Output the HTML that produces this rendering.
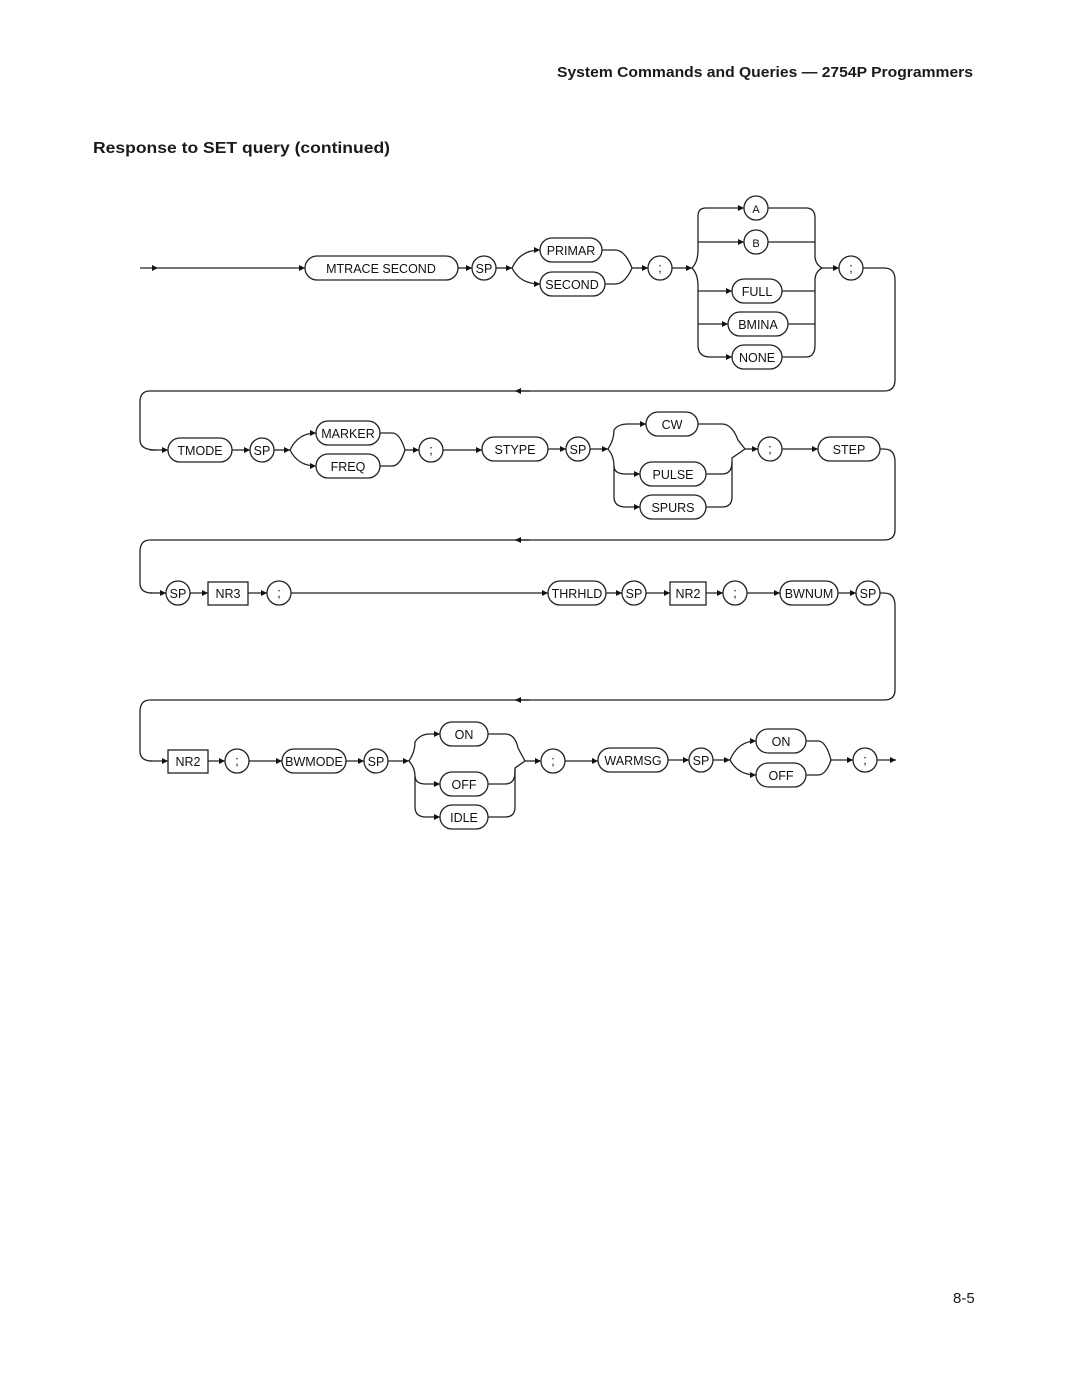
<!DOCTYPE html>
<html><head><meta charset="utf-8"><style>
html,body{margin:0;padding:0;background:#fff}
svg{display:block}
text{font-family:"Liberation Sans",sans-serif;font-size:12.5px;fill:#111}
.h{font-size:14.5px;font-weight:bold;fill:#1a1a1a}
</style></head><body>
<svg width="1080" height="1397" viewBox="0 0 1080 1397" xmlns="http://www.w3.org/2000/svg">
<defs>
<marker id="a" viewBox="0 0 10 10" refX="10" refY="5" markerWidth="10" markerHeight="6" orient="auto" markerUnits="userSpaceOnUse"><path d="M0,0 L10,5 L0,10 z" fill="#111"/></marker>
</defs>
<text class="h" x="557" y="77" textLength="416" lengthAdjust="spacingAndGlyphs">System Commands and Queries — 2754P Programmers</text>
<text class="h" x="93" y="153" style="font-size:15.5px" textLength="297" lengthAdjust="spacingAndGlyphs">Response to SET query (continued)</text>
<text class="h" x="953" y="1303" style="font-weight:normal;font-size:15px">8-5</text>

<g fill="none" stroke="#222" stroke-width="1.3">
<!-- Row 1 -->
<path d="M140,268 H158" marker-end="url(#a)"/>
<path d="M158,268 H305" marker-end="url(#a)"/>
<rect x="305" y="256" width="153" height="24" rx="12"/>
<path d="M458,268 H472" marker-end="url(#a)"/>
<circle cx="484" cy="268" r="12"/>
<path d="M496,268 H512"  marker-end="url(#a)"/>
<path d="M512,268 Q520,250 540,250" marker-end="url(#a)"/>
<path d="M512,268 Q520,284 540,284" marker-end="url(#a)"/>
<rect x="540" y="238" width="62" height="24" rx="12"/>
<rect x="540" y="272" width="65" height="24" rx="12"/>
<path d="M602,250 H615 Q625,250 632,268"/>
<path d="M605,284 H615 Q625,284 632,268"/>
<path d="M632,268 H648" marker-end="url(#a)"/>
<circle cx="660" cy="268" r="12"/>
<path d="M672,268 H692" marker-end="url(#a)"/>
<path d="M692,268 Q698,262 698,250 V216 Q698,208 706,208 H744" marker-end="url(#a)"/>
<path d="M698,242 H744" marker-end="url(#a)"/>
<path d="M692,268 Q698,274 698,286 V345 Q698,357 710,357 H732" marker-end="url(#a)"/>
<path d="M698,291 H732" marker-end="url(#a)"/>
<path d="M698,324 H728" marker-end="url(#a)"/>
<circle cx="756" cy="208" r="12"/>
<circle cx="756" cy="242" r="12"/>
<rect x="732" y="279" width="50" height="24" rx="12"/>
<rect x="728" y="312" width="60" height="24" rx="12"/>
<rect x="732" y="345" width="50" height="24" rx="12"/>
<path d="M768,208 H806 Q815,208 815,218 V256 Q815,264 822,268"/>
<path d="M768,242 H815"/>
<path d="M782,291 H815"/>
<path d="M788,324 H815"/>
<path d="M782,357 H806 Q815,357 815,345 V280 Q815,272 822,268"/>
<path d="M822,268 H839" marker-end="url(#a)"/>
<circle cx="851" cy="268" r="12"/>
<path d="M863,268 H884 Q895,268 895,280 V380 Q895,391 884,391 H150 Q140,391 140,402 V440 Q140,450 156,450" />
<path d="M530,391 H515" marker-end="url(#a)"/>
<path d="M150,450 H168" marker-end="url(#a)"/>

<!-- Row 2 -->
<rect x="168" y="438" width="64" height="24" rx="12"/>
<path d="M232,450 H250" marker-end="url(#a)"/>
<circle cx="262" cy="450" r="12"/>
<path d="M274,450 H290" marker-end="url(#a)"/>
<path d="M290,450 Q298,433 316,433" marker-end="url(#a)"/>
<path d="M290,450 Q298,466 316,466" marker-end="url(#a)"/>
<rect x="316" y="421" width="64" height="24" rx="12"/>
<rect x="316" y="454" width="64" height="24" rx="12"/>
<path d="M380,433 H392 Q400,433 405,450"/>
<path d="M380,466 H392 Q400,466 405,450"/>
<path d="M405,450 H419" marker-end="url(#a)"/>
<circle cx="431" cy="450" r="12"/>
<path d="M443,450 H482" marker-end="url(#a)"/>
<rect x="482" y="437" width="66" height="24" rx="12"/>
<path d="M548,449 H566" marker-end="url(#a)"/>
<circle cx="578" cy="449" r="12"/>
<path d="M590,449 H608" marker-end="url(#a)"/>
<path d="M608,449 Q614,440 614,430 Q618,424 628,424 H646" marker-end="url(#a)"/>
<path d="M608,449 Q614,456 614,466 V497 Q614,507 626,507 H640" marker-end="url(#a)"/>
<path d="M614,466 Q614,474 626,474 H640" marker-end="url(#a)"/>
<rect x="646" y="412" width="52" height="24" rx="12"/>
<rect x="640" y="462" width="66" height="24" rx="12"/>
<rect x="640" y="495" width="66" height="24" rx="12"/>
<path d="M698,424 H722 Q732,424 738,440 L745,449"/>
<path d="M706,474 H722 Q732,474 732,462 V458 L745,449"/>
<path d="M706,507 H722 Q732,507 732,497 V462"/>
<path d="M745,449 H758" marker-end="url(#a)"/>
<circle cx="770" cy="449" r="12"/>
<path d="M782,449 H818" marker-end="url(#a)"/>
<rect x="818" y="437" width="62" height="24" rx="12"/>
<path d="M880,449 H884 Q895,449 895,462 V530 Q895,540 884,540 H150 Q140,540 140,552 V583 Q140,593 152,593"/>
<path d="M530,540 H515" marker-end="url(#a)"/>
<path d="M150,593 H166" marker-end="url(#a)"/>

<!-- Row 3 -->
<circle cx="178" cy="593" r="12"/>
<path d="M190,593 H208" marker-end="url(#a)"/>
<rect x="208" y="582" width="40" height="23"/>
<path d="M248,593 H267" marker-end="url(#a)"/>
<circle cx="279" cy="593" r="12"/>
<path d="M291,593 H548" marker-end="url(#a)"/>
<rect x="548" y="581" width="58" height="24" rx="12"/>
<path d="M606,593 H622" marker-end="url(#a)"/>
<circle cx="634" cy="593" r="12"/>
<path d="M646,593 H670" marker-end="url(#a)"/>
<rect x="670" y="582" width="36" height="23"/>
<path d="M706,593 H723" marker-end="url(#a)"/>
<circle cx="735" cy="593" r="12"/>
<path d="M747,593 H780" marker-end="url(#a)"/>
<rect x="780" y="581" width="58" height="24" rx="12"/>
<path d="M838,593 H856" marker-end="url(#a)"/>
<circle cx="868" cy="593" r="12"/>
<path d="M880,593 H884 Q895,593 895,606 V690 Q895,700 884,700 H150 Q140,700 140,712 V751 Q140,761 152,761"/>
<path d="M530,700 H515" marker-end="url(#a)"/>
<path d="M150,761 H168" marker-end="url(#a)"/>

<!-- Row 4 -->
<rect x="168" y="750" width="40" height="23"/>
<path d="M208,761 H225" marker-end="url(#a)"/>
<circle cx="237" cy="761" r="12"/>
<path d="M249,761 H282" marker-end="url(#a)"/>
<rect x="282" y="749" width="64" height="24" rx="12"/>
<path d="M346,761 H364" marker-end="url(#a)"/>
<circle cx="376" cy="761" r="12"/>
<path d="M388,761 H409" marker-end="url(#a)"/>
<path d="M409,761 Q415,752 415,742 Q420,734 430,734 H440" marker-end="url(#a)"/>
<path d="M409,761 Q415,768 415,776 V807 Q415,817 426,817 H440" marker-end="url(#a)"/>
<path d="M415,776 Q415,784 426,784 H440" marker-end="url(#a)"/>
<rect x="440" y="722" width="48" height="24" rx="12"/>
<rect x="440" y="772" width="48" height="24" rx="12"/>
<rect x="440" y="805" width="48" height="24" rx="12"/>
<path d="M488,734 H505 Q515,734 518,748 L525,761"/>
<path d="M488,784 H505 Q515,784 515,772 V768 L525,761"/>
<path d="M488,817 H505 Q515,817 515,807 V770"/>
<path d="M525,761 H541" marker-end="url(#a)"/>
<circle cx="553" cy="761" r="12"/>
<path d="M565,761 H598" marker-end="url(#a)"/>
<rect x="598" y="748" width="70" height="24" rx="12"/>
<path d="M668,760 H689" marker-end="url(#a)"/>
<circle cx="701" cy="760" r="12"/>
<path d="M713,760 H730" marker-end="url(#a)"/>
<path d="M730,760 Q738,741 756,741" marker-end="url(#a)"/>
<path d="M730,760 Q738,775 756,775" marker-end="url(#a)"/>
<rect x="756" y="729" width="50" height="24" rx="12"/>
<rect x="756" y="763" width="50" height="24" rx="12"/>
<path d="M806,741 H818 Q826,741 831,760"/>
<path d="M806,775 H818 Q826,775 831,760"/>
<path d="M831,760 H853" marker-end="url(#a)"/>
<circle cx="865" cy="760" r="12"/>
<path d="M877,760 H896" marker-end="url(#a)"/>
</g>

<g text-anchor="middle">
<text x="381" y="273">MTRACE SECOND</text>
<text x="484" y="273">SP</text>
<text x="571" y="255">PRIMAR</text>
<text x="572" y="289">SECOND</text>
<text x="660" y="272">;</text>
<text x="756" y="213" style="font-size:11px">A</text>
<text x="756" y="247" style="font-size:11px">B</text>
<text x="757" y="296">FULL</text>
<text x="758" y="329">BMINA</text>
<text x="757" y="362">NONE</text>
<text x="851" y="272">;</text>

<text x="200" y="455">TMODE</text>
<text x="262" y="455">SP</text>
<text x="348" y="438">MARKER</text>
<text x="348" y="471">FREQ</text>
<text x="431" y="454">;</text>
<text x="515" y="454">STYPE</text>
<text x="578" y="454">SP</text>
<text x="672" y="429">CW</text>
<text x="673" y="479">PULSE</text>
<text x="673" y="512">SPURS</text>
<text x="770" y="453">;</text>
<text x="849" y="454">STEP</text>

<text x="178" y="598">SP</text>
<text x="228" y="598">NR3</text>
<text x="279" y="597">;</text>
<text x="577" y="598">THRHLD</text>
<text x="634" y="598">SP</text>
<text x="688" y="598">NR2</text>
<text x="735" y="597">;</text>
<text x="809" y="598">BWNUM</text>
<text x="868" y="598">SP</text>

<text x="188" y="766">NR2</text>
<text x="237" y="765">;</text>
<text x="314" y="766">BWMODE</text>
<text x="376" y="766">SP</text>
<text x="464" y="739">ON</text>
<text x="464" y="789">OFF</text>
<text x="464" y="822">IDLE</text>
<text x="553" y="765">;</text>
<text x="633" y="765">WARMSG</text>
<text x="701" y="765">SP</text>
<text x="781" y="746">ON</text>
<text x="781" y="780">OFF</text>
<text x="865" y="764">;</text>
</g>
</svg>
</body></html>
